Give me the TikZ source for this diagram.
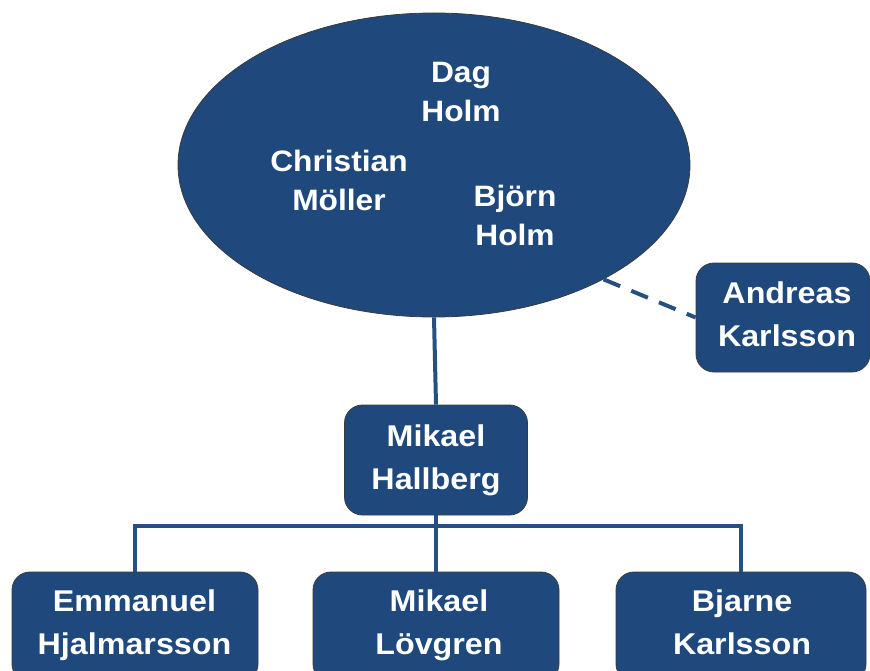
\documentclass[tikz,border=0pt]{standalone}
\usepackage{fontspec}
\setmainfont{Liberation Sans}[FakeStretch=1.075]
\usetikzlibrary{shapes.geometric}
\definecolor{boardblue}{HTML}{1F487C}
\definecolor{linkblue}{HTML}{25507F}
\definecolor{rimgray}{HTML}{3A3A3A}
\begin{document}
\begin{tikzpicture}[x=1pt,y=-1pt,
  person/.style={draw=rimgray,line width=0.8pt,fill=boardblue,rounded corners=18pt,inner sep=0pt},
  nametext/.style={text=white,font=\fontsize{30}{43}\selectfont\bfseries,align=center,inner sep=0pt},
  boardtext/.style={nametext,font=\fontsize{29.5}{39}\selectfont\bfseries},
  link/.style={draw=linkblue,line width=4pt}]
\useasboundingbox (0,0) rectangle (870,671);
\clip (0,0) rectangle (870,671);
% board
\node[ellipse,draw=rimgray,line width=0.8pt,fill=boardblue,minimum width=512pt,minimum height=304pt,inner sep=0pt] (board) at (434,165) {};
\node[boardtext] (dag) at (461,94) {\strut Dag\\\strut Holm};
\node[boardtext] (christian) at (339,183.4) {\strut Christian\\\strut Möller};
\node[boardtext] (bjorn) at (515,217.7) {\strut Björn\\\strut Holm};
% people boxes
\node[person,minimum width=174pt,minimum height=109pt] (andreas) at (783,317.5) {};
\node[person,minimum width=183pt,minimum height=110pt] (hallberg) at (436,460) {};
\node[person,minimum width=246pt,minimum height=110pt] (emmanuel) at (135,627) {};
\node[person,minimum width=246pt,minimum height=110pt] (lovgren) at (436,627) {};
\node[person,minimum width=250pt,minimum height=110pt] (bjarne) at (741,627) {};
% people names
\node[nametext] (andreastext) at (787,316) {\strut Andreas\\\strut Karlsson};
\node[nametext] (hallbergtext) at (436,459.6) {\strut Mikael\\\strut Hallberg};
\node[nametext] (emmanueltext) at (134.5,624.6) {\strut Emmanuel\\\strut Hjalmarsson};
\node[nametext] (lovgrentext) at (439,624.6) {\strut Mikael\\\strut Lövgren};
\node[nametext] (bjarnetext) at (742,624.6) {\strut Bjarne\\\strut Karlsson};
\coordinate (bar) at (436,526);
% connectors
\draw[link] (board.south) -- (hallberg.north);
\draw[link,dash pattern=on 18pt off 12pt] (board.-34.7) -- (andreas.west);
\draw[link] (hallberg.south) -- (lovgren.north);
\draw[link] (emmanuel.north) |- (bar) -| (bjarne.north);
\end{tikzpicture}
\end{document}
